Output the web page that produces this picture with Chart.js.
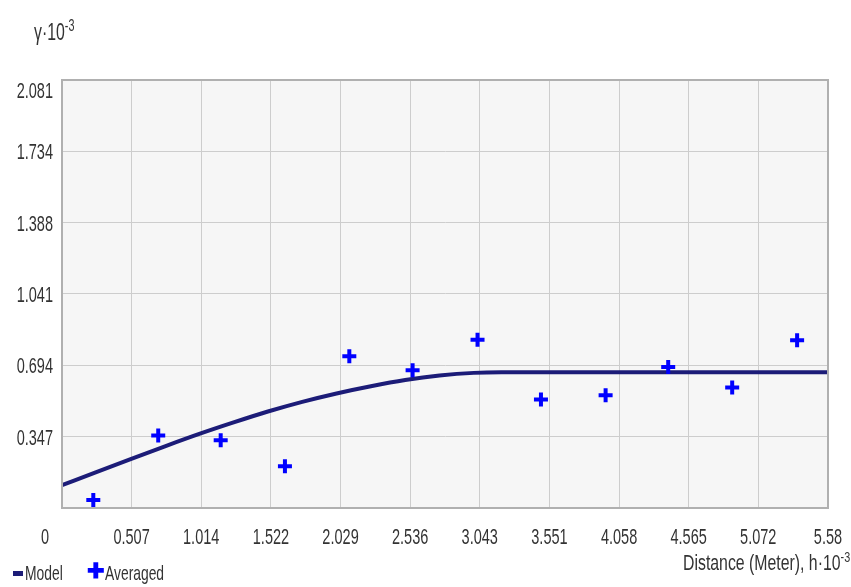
<!DOCTYPE html>
<html>
<head>
<meta charset="utf-8">
<script src="https://cdn.jsdelivr.net/npm/chart.js@4"></script>
<style>
  html, body { margin: 0; padding: 0; background: #fff; }
  #wrap { position: relative; width: 851px; height: 587px; font-family: "Liberation Sans", Arial, sans-serif; color: #333; }
  canvas { position: absolute; left: 0; top: 0; }
  .txt { position: absolute; white-space: nowrap; line-height: 1; }
  .narrow { display: inline-block; transform: scaleX(0.66); }
  sup { font-size: 68%; }
</style>
</head>
<body>
<div id="wrap">
  <canvas id="variogram" width="851" height="587"></canvas>
  <div class="txt" style="left:34px;top:17px;font-size:24px;"><span class="narrow" style="transform-origin:left top;">γ·10<sup>-3</sup></span></div>
  <div class="txt" style="left:13px;top:562px;font-size:21px;">
    <span style="position:absolute;left:0;top:9px;width:10px;height:5px;background:#1c1c78;"></span>
    <span class="narrow" style="position:absolute;left:12px;top:0;transform-origin:left top;">Model</span>
    <span style="position:absolute;left:74px;top:-2px;color:#0000ff;font-size:21px;font-weight:bold;">✚</span>
    <span class="narrow" style="position:absolute;left:92px;top:0;transform-origin:left top;">Averaged</span>
  </div>
  <div class="txt" style="right:1px;top:550px;font-size:22px;"><span class="narrow" style="transform:scaleX(0.72);transform-origin:right top;">Distance (Meter), h·10<sup>-3</sup></span></div>
</div>
<script>
// tick labels as printed on the axes
var xTickLabels = ["0", "0.507", "1.014", "1.522", "2.029", "2.536", "3.043", "3.551", "4.058", "4.565", "5.072", "5.58"];
var yTickLabels = ["0", "0.347", "0.694", "1.041", "1.388", "1.734", "2.081"];

// averaged semivariance points (h, gamma), both x10^-3
var avgH = [0.228, 0.701, 1.156, 1.624, 2.093, 2.554, 3.027, 3.489, 3.960, 4.416, 4.882, 5.355];
var avgGamma = [0.039, 0.353, 0.329, 0.203, 0.738, 0.670, 0.818, 0.527, 0.548, 0.686, 0.586, 0.816];

// model curve
var modelH = [0, 0.25, 0.5, 0.75, 1.0, 1.25, 1.5, 1.75, 2.0, 2.25, 2.5, 2.75, 3.0, 3.2, 5.58];
var modelGamma = [0.111, 0.175, 0.238, 0.300, 0.360, 0.416, 0.469, 0.516, 0.557, 0.592, 0.622, 0.644, 0.657, 0.660, 0.660];

var xTicks = xTickLabels.map(Number);
var yTicks = yTickLabels.map(Number);

var tickFont = '22px "Liberation Sans", Arial, sans-serif';

function narrowText(ctx, text, x, y, align) {
  ctx.save();
  ctx.translate(x, y);
  ctx.scale(0.66, 1);
  ctx.textAlign = align;
  ctx.textBaseline = 'middle';
  ctx.fillText(text, 0, 0);
  ctx.restore();
}

var plotBg = {
  id: 'plotBg',
  beforeDraw: function(chart) {
    var a = chart.chartArea, ctx = chart.ctx;
    ctx.save();
    ctx.fillStyle = '#f6f6f6';
    ctx.fillRect(a.left, a.top, a.right - a.left, a.bottom - a.top);
    ctx.restore();
  },
  afterDraw: function(chart) {
    var a = chart.chartArea, ctx = chart.ctx;
    var xs = chart.scales.x, ys = chart.scales.y;
    ctx.save();
    ctx.strokeStyle = '#b0b0b0';
    ctx.lineWidth = 2;
    ctx.strokeRect(a.left, a.top, a.right - a.left, a.bottom - a.top);
    ctx.fillStyle = '#333';
    ctx.font = tickFont;
    xTicks.forEach(function(v, i) {
      var px = i === 0 ? 45 : xs.getPixelForValue(v);
      narrowText(ctx, xTickLabels[i], px, a.bottom + 30, 'center');
    });
    yTicks.forEach(function(v, i) {
      if (i === 0) return;
      var py = Math.max(ys.getPixelForValue(v) + 2, a.top + 12);
      narrowText(ctx, yTickLabels[i], 53, py, 'right');
    });
    ctx.restore();
  }
};

new Chart(document.getElementById('variogram'), {
  type: 'scatter',
  data: {
    datasets: [
      {
        label: 'Model',
        type: 'line',
        data: modelH.map(function(h, i) { return { x: h, y: modelGamma[i] }; }),
        borderColor: '#1c1c78',
        borderWidth: 4,
        pointRadius: 0,
        cubicInterpolationMode: 'monotone',
        fill: false,
        order: 2
      },
      {
        label: 'Averaged',
        data: avgH.map(function(h, i) { return { x: h, y: avgGamma[i] }; }),
        pointStyle: 'cross',
        pointRadius: 7,
        borderWidth: 4,
        borderColor: '#0000ff',
        backgroundColor: '#0000ff',
        order: 1
      }
    ]
  },
  options: {
    responsive: false,
    animation: false,
    layout: { padding: { left: 0, top: 80, right: 23, bottom: 49 } },
    plugins: { legend: { display: false }, tooltip: { enabled: false } },
    scales: {
      x: {
        type: 'linear',
        min: 0,
        max: 5.58,
        afterBuildTicks: function(axis) { axis.ticks = xTicks.map(function(v) { return { value: v }; }); },
        afterFit: function(axis) { axis.height = 30; },
        grid: { color: '#cdcdcd', lineWidth: 1, drawTicks: false },
        border: { color: '#a8a8a8', width: 2 },
        ticks: { display: false }
      },
      y: {
        type: 'linear',
        min: 0,
        max: 2.081,
        afterBuildTicks: function(axis) { axis.ticks = yTicks.map(function(v) { return { value: v }; }); },
        afterFit: function(axis) { axis.width = 62; },
        grid: { color: '#cdcdcd', lineWidth: 1, drawTicks: false },
        border: { color: '#a8a8a8', width: 2 },
        ticks: { display: false }
      }
    }
  },
  plugins: [plotBg]
});
</script>
</body>
</html>
